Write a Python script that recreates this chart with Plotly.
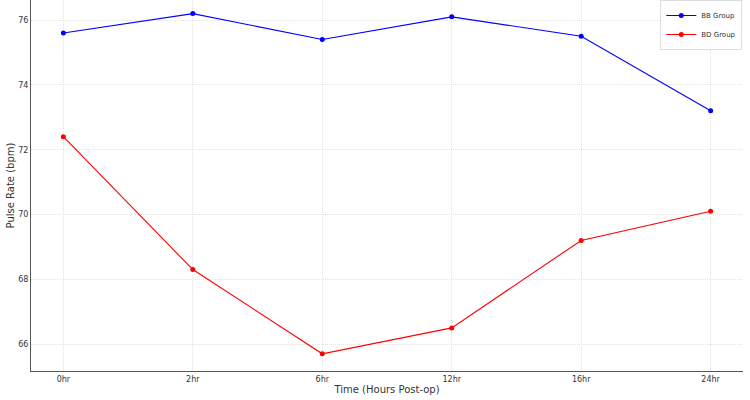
import plotly.graph_objects as go

times = ["0hr", "2hr", "6hr", "12hr", "16hr", "24hr"]
bb_group = [75.6, 76.2, 75.4, 76.1, 75.5, 73.2]
bd_group = [72.4, 68.3, 65.7, 66.5, 69.2, 70.1]

fig = go.Figure()
fig.add_trace(go.Scatter(x=list(range(len(times))), y=bb_group, mode="lines+markers", name="BB Group",
                         line=dict(color="blue", width=1.1), marker=dict(color="blue", size=5)))
fig.add_trace(go.Scatter(x=list(range(len(times))), y=bd_group, mode="lines+markers", name="BD Group",
                         line=dict(color="red", width=1.1), marker=dict(color="red", size=5)))

grid = dict(showgrid=True, gridcolor="#e2e2e2", griddash="1px,1px", gridwidth=1, zeroline=False)
fig.update_layout(
    width=750, height=400,
    margin=dict(l=31, r=7, t=0, b=29),
    paper_bgcolor="white", plot_bgcolor="white",
    font=dict(family="DejaVu Sans", color="#333333", size=8),
    xaxis=dict(tickmode="array", tickvals=list(range(len(times))), ticktext=times,
               range=[-0.25, 5.25], showline=True, linecolor="#555555", linewidth=1,
               ticks="", title=dict(text="Time (Hours Post-op)", font=dict(size=10), standoff=3), **grid),
    yaxis=dict(range=[65.17, 76.62], dtick=2, showline=True, linecolor="#555555", linewidth=1,
               ticks="", title=dict(text="Pulse Rate (bpm)", font=dict(size=10), standoff=1), **grid),
    legend=dict(x=0.999, xanchor="right", y=1.0, yanchor="top", bgcolor="rgba(255,255,255,0.9)",
                bordercolor="#dddddd", borderwidth=1, font=dict(size=7),
                tracegroupgap=0, itemwidth=30),
    showlegend=True,
)
fig.write_html("out.html")
